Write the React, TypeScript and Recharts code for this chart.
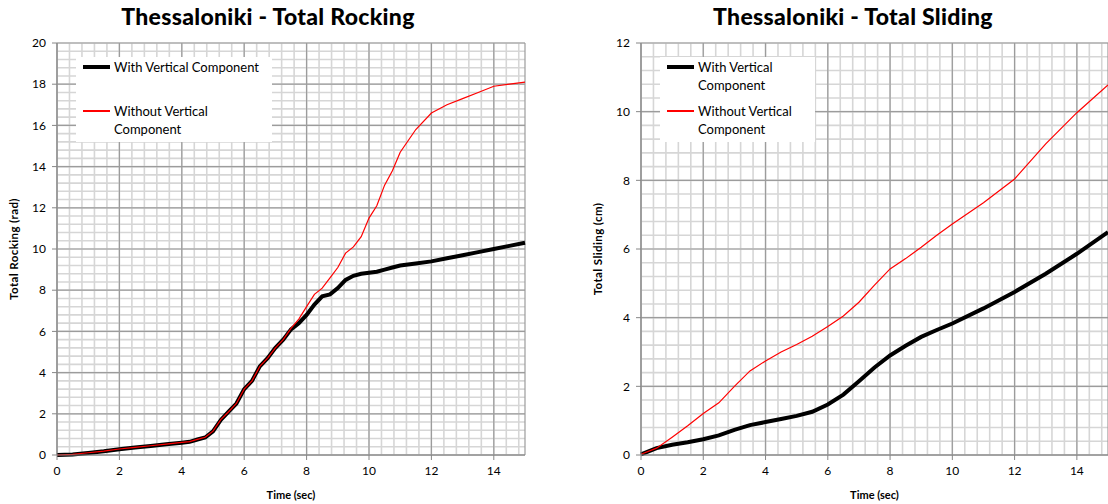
import React from 'react';
import {
  CartesianGrid,
  Legend,
  Line,
  LineChart,
  XAxis,
  YAxis,
} from 'recharts';

// Rocking (rad) vs time (sec)
const rockTime = [
  0, 0.5, 1, 1.5, 2, 2.5, 3, 3.5, 4, 4.25, 4.5, 4.75, 5, 5.25, 5.5, 5.75, 6, 6.25, 6.5, 6.75, 7,
  7.25, 7.5, 7.75, 8, 8.25, 8.5, 8.75, 9, 9.25, 9.5, 9.75, 10, 10.25, 10.5, 10.75, 11, 11.5, 12,
  12.5, 13, 13.5, 14, 14.5, 15,
];
const rockWith = [
  0, 0.02, 0.1, 0.18, 0.28, 0.36, 0.44, 0.52, 0.6, 0.64, 0.75, 0.85, 1.15, 1.7, 2.1, 2.5, 3.2, 3.6,
  4.3, 4.7, 5.2, 5.6, 6.1, 6.4, 6.8, 7.3, 7.7, 7.8, 8.1, 8.5, 8.7, 8.8, 8.85, 8.9, 9.0, 9.1, 9.2,
  9.3, 9.4, 9.55, 9.7, 9.85, 10.0, 10.15, 10.3,
];
const rockWithout = [
  0, 0.03, 0.11, 0.19, 0.29, 0.37, 0.45, 0.53, 0.61, 0.65, 0.76, 0.86, 1.16, 1.72, 2.1, 2.5, 3.2,
  3.6, 4.3, 4.7, 5.2, 5.6, 6.15, 6.6, 7.2, 7.8, 8.1, 8.6, 9.1, 9.8, 10.1, 10.6, 11.5, 12.1, 13.1,
  13.8, 14.7, 15.8, 16.6, 17.0, 17.3, 17.6, 17.9, 18.0, 18.1,
];

// Sliding (cm) vs time (sec)
const slideTime = [
  0, 0.5, 1, 1.5, 2, 2.5, 3, 3.5, 4, 4.5, 5, 5.5, 6, 6.5, 7, 7.5, 8, 8.5, 9, 9.5, 10, 11, 12, 13,
  14, 15,
];
const slideWith = [
  0.02, 0.2, 0.3, 0.37, 0.46, 0.57, 0.73, 0.87, 0.96, 1.05, 1.14, 1.26, 1.47, 1.76, 2.15, 2.55,
  2.9, 3.18, 3.44, 3.64, 3.83, 4.27, 4.75, 5.28, 5.86, 6.49,
];
const slideWithout = [
  0.02, 0.2, 0.52, 0.85, 1.21, 1.52, 2.0, 2.45, 2.74, 3.0, 3.22, 3.46, 3.74, 4.05, 4.45, 4.95,
  5.42, 5.72, 6.05, 6.4, 6.73, 7.35, 8.04, 9.06, 9.97, 10.78,
];

const timeTicks = [0, 2, 4, 6, 8, 10, 12, 14];
const rockTicks = [0, 2, 4, 6, 8, 10, 12, 14, 16, 18, 20];
const slideTicks = [0, 2, 4, 6, 8, 10, 12];

const step = (max: number, d: number) =>
  Array.from({ length: Math.floor(max / d + 1e-9) + 1 }, (_, i) => +(i * d).toFixed(2));
const minorTime = step(15, 0.4);
const minorRock = step(20, 0.4);
const minorSlide = step(12, 0.4);

const FONT = 'Lato, "Open Sans", sans-serif';
const MAJOR = '#9c9c9c';
const MINOR = '#d6d6d6';
const AXIS = '#868686';
const RED = '#ff0000';

const rockData = rockTime.map((t, i) => ({ t, withV: rockWith[i], withoutV: rockWithout[i] }));
const slideData = slideTime.map((t, i) => ({ t, withV: slideWith[i], withoutV: slideWithout[i] }));

function LegendBox({ payload, width }: { payload?: any[]; width: number }) {
  return (
    <div
      style={{
        width,
        height: 85,
        background: '#fff',
        boxSizing: 'border-box',
        padding: '1px 0 0 7px',
        fontFamily: FONT,
        fontSize: 13,
        color: '#000',
        textAlign: 'left',
      }}
    >
      {(payload ?? []).map((p) => (
        <div key={p.value} style={{ display: 'flex', height: 44 }}>
          <div
            style={{
              width: 27,
              height: p.payload?.strokeWidth ?? 1,
              background: p.color,
              marginTop: 9 - (p.payload?.strokeWidth ?? 1) / 2,
              marginRight: 4,
              flex: 'none',
            }}
          />
          <div style={{ width: width - 45, lineHeight: '18px' }}>{p.value}</div>
        </div>
      ))}
    </div>
  );
}

function Panel({
  left,
  width,
  title,
  titleCenter,
  yLabel,
  data,
  yMax,
  yTicks,
  minorY,
  legendLeft,
  legendWidth,
  rightMargin,
}: {
  left: number;
  width: number;
  title: string;
  titleCenter: number;
  yLabel: string;
  data: any[];
  yMax: number;
  yTicks: number[];
  minorY: number[];
  legendLeft: number;
  legendWidth: number;
  rightMargin: number;
}) {
  const tick = { fontSize: 12, fill: '#000', fontFamily: FONT };
  return (
    <div style={{ position: 'absolute', left, top: 0, width, height: 504 }}>
      <div
        style={{
          position: 'absolute',
          left: titleCenter - 200,
          width: 400,
          top: 2,
          textAlign: 'center',
          fontFamily: FONT,
          fontWeight: 900,
          fontSize: 23,
          letterSpacing: 0.3,
          color: '#000',
          zIndex: 2,
        }}
      >
        {title}
      </div>
      <LineChart
        width={width}
        height={504}
        data={data}
        margin={{ top: 43, right: rightMargin, bottom: 0, left: 0 }}
      >
        <CartesianGrid
          verticalValues={minorTime}
          horizontalValues={minorY}
          stroke={MINOR}
          strokeWidth={1.6}
        />
        <CartesianGrid stroke={MAJOR} strokeWidth={1.2} />
        <XAxis
          dataKey="t"
          type="number"
          domain={[0, 15]}
          ticks={timeTicks}
          interval={0}
          height={49}
          tick={tick}
          tickLine={{ stroke: AXIS }}
          axisLine={{ stroke: AXIS }}
          tickSize={5}
          tickMargin={6}
          label={{
            value: 'Time (sec)',
            position: 'insideBottom',
            offset: 5,
            style: { fontSize: 11, fontWeight: 700, fill: '#000', fontFamily: FONT },
          }}
        />
        <YAxis
          type="number"
          domain={[0, yMax]}
          ticks={yTicks}
          interval={0}
          width={57}
          tick={tick}
          tickLine={{ stroke: AXIS }}
          axisLine={{ stroke: AXIS }}
          tickSize={5}
          tickMargin={6}
          label={{
            value: yLabel,
            angle: -90,
            position: 'insideLeft',
            offset: 14,
            style: {
              textAnchor: 'middle',
              fontSize: 11.5,
              fontWeight: 700,
              letterSpacing: 0.4,
              fill: '#000',
              fontFamily: FONT,
            },
          }}
        />
        <Legend
          layout="vertical"
          align="center"
          verticalAlign="middle"
          wrapperStyle={{ left: legendLeft, top: 57, width: legendWidth, height: 85 }}
          content={(props: any) => <LegendBox payload={props.payload} width={legendWidth} />}
        />
        <Line
          type="linear"
          dataKey="withV"
          name="With Vertical Component"
          stroke="#000"
          strokeWidth={4}
          dot={false}
          isAnimationActive={false}
        />
        <Line
          type="linear"
          dataKey="withoutV"
          name="Without Vertical Component"
          stroke={RED}
          strokeWidth={1.2}
          dot={false}
          isAnimationActive={false}
        />
      </LineChart>
    </div>
  );
}

export default function App() {
  return (
    <div
      style={{
        position: 'absolute',
        left: 0,
        top: 0,
        width: 1108,
        height: 504,
        background: '#fff',
        overflow: 'hidden',
      }}
    >
      <Panel
        left={0}
        width={540}
        title="Thessaloniki - Total Rocking"
        titleCenter={268}
        yLabel="Total Rocking  (rad)"
        data={rockData}
        yMax={20}
        yTicks={rockTicks}
        minorY={minorRock}
        legendLeft={76}
        legendWidth={196}
        rightMargin={15}
      />
      <Panel
        left={584}
        width={524}
        title="Thessaloniki - Total Sliding"
        titleCenter={269}
        yLabel="Total Sliding  (cm)"
        data={slideData}
        yMax={12}
        yTicks={slideTicks}
        minorY={minorSlide}
        legendLeft={76}
        legendWidth={155}
        rightMargin={0}
      />
    </div>
  );
}
